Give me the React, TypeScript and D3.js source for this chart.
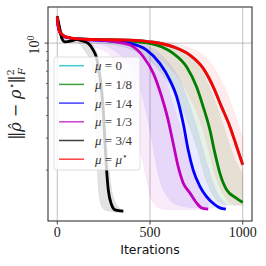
import React from "react";
import * as d3 from "d3";

// ---------- data ----------
const labels = ["0", "1/8", "1/4", "1/3", "3/4", "μ*"];
const colors = ["#00bfbf", "#008000", "#0000ff", "#bf00bf", "#000000", "#ff0000"];

const redIters = [0, 5, 12, 24, 40, 60, 100, 150, 250, 393, 500, 625, 715, 787, 841, 886, 931, 967, 1000];
const redVals = [1.4, 1.25, 1.17, 1.12, 1.09, 1.075, 1.058, 1.05, 1.045, 1.039, 1.017, 0.954, 0.859, 0.726, 0.575, 0.446, 0.347, 0.27, 0.214];

const cyanIters = [0, 5, 12, 24, 40, 60, 100, 150, 250, 393, 500, 625, 715, 787, 841, 886, 931, 967, 1000];
const cyanVals = [1.4, 1.25, 1.17, 1.12, 1.09, 1.075, 1.058, 1.05, 1.045, 1.039, 1.017, 0.954, 0.859, 0.726, 0.575, 0.446, 0.347, 0.27, 0.214];

const greenIters = [0, 5, 12, 24, 40, 60, 100, 150, 250, 393, 536, 625, 697, 751, 787, 823, 850, 877, 913, 967, 1000];
const greenVals = [1.4, 1.24, 1.16, 1.11, 1.085, 1.07, 1.056, 1.05, 1.042, 1.026, 0.975, 0.878, 0.741, 0.575, 0.446, 0.333, 0.248, 0.192, 0.156, 0.14, 0.133];

const blueIters = [0, 5, 12, 24, 40, 60, 100, 150, 250, 393, 482, 553, 607, 644, 679, 706, 733, 769, 805, 850, 877, 909];
const blueVals = [1.4, 1.24, 1.16, 1.11, 1.085, 1.07, 1.055, 1.048, 1.035, 0.996, 0.915, 0.774, 0.626, 0.507, 0.362, 0.258, 0.2, 0.163, 0.143, 0.129, 0.124, 0.122];

const magentaIters = [0, 5, 12, 24, 40, 60, 100, 150, 250, 330, 393, 464, 518, 563, 598, 625, 652, 679, 715, 751, 778, 814];
const magentaVals = [1.4, 1.24, 1.16, 1.11, 1.085, 1.07, 1.055, 1.045, 1.035, 1.01, 0.975, 0.841, 0.682, 0.507, 0.377, 0.281, 0.209, 0.17, 0.15, 0.132, 0.124, 0.122];

const blackIters = [0, 15, 24, 41, 78, 105, 132, 167, 194, 212, 230, 248, 257, 266, 275, 293, 311, 356];
const blackVals = [1.4, 1.178, 1.065, 1.017, 1.03, 1.048, 1.03, 0.996, 0.915, 0.827, 0.653, 0.428, 0.282, 0.2, 0.156, 0.129, 0.121, 0.119];

// bands (lower / upper on a shared iteration grid)
const redBandIters = [0, 40, 100, 200, 300, 400, 500, 600, 680, 750, 800, 850, 900, 950, 1000];
const redLower = [1.38, 1.07, 1.05, 1.03, 1.0, 0.96, 0.88, 0.74, 0.58, 0.42, 0.3, 0.19, 0.145, 0.13, 0.128];
const redUpper = [1.42, 1.1, 1.07, 1.065, 1.06, 1.05, 1.04, 1.01, 0.97, 0.91, 0.84, 0.72, 0.58, 0.43, 0.3];

const greenBandIters = [0, 40, 100, 200, 300, 400, 500, 600, 680, 750, 800, 850, 900, 950, 1000];
const greenLower = [1.38, 1.07, 1.05, 1.02, 0.98, 0.92, 0.8, 0.6, 0.42, 0.27, 0.18, 0.14, 0.13, 0.128, 0.128];
const greenUpper = [1.42, 1.1, 1.07, 1.06, 1.055, 1.04, 1.02, 0.97, 0.9, 0.78, 0.64, 0.48, 0.34, 0.24, 0.19];

const blueBandIters = [0, 40, 100, 200, 300, 393, 450, 500, 550, 600, 650, 700, 750, 800, 850, 909];
const blueLower = [1.38, 1.07, 1.04, 1.0, 0.92, 0.74, 0.55, 0.33, 0.18, 0.14, 0.128, 0.125, 0.124, 0.124, 0.124, 0.124];
const blueUpper = [1.42, 1.1, 1.068, 1.06, 1.05, 1.03, 1.0, 0.95, 0.88, 0.78, 0.66, 0.5, 0.35, 0.23, 0.16, 0.13];

const magentaBandIters = [0, 40, 100, 200, 285, 340, 393, 450, 518, 570, 620, 680, 750, 814];
const magentaLower = [1.38, 1.07, 1.03, 0.95, 0.86, 0.65, 0.43, 0.25, 0.132, 0.122, 0.121, 0.121, 0.121, 0.121];
const magentaUpper = [1.42, 1.1, 1.065, 1.055, 1.045, 1.03, 1.0, 0.94, 0.83, 0.68, 0.48, 0.3, 0.18, 0.14];

const blackBandIters = [0, 20, 41, 80, 112, 150, 176, 190, 203, 208, 212, 218, 230, 250, 265, 280, 300, 330, 356];
const blackLower = [1.38, 1.1, 1.02, 1.01, 1.0, 0.9, 0.806, 0.7, 0.53, 0.4, 0.282, 0.184, 0.137, 0.122, 0.12, 0.119, 0.118, 0.117, 0.117];
const blackUpper = [1.42, 1.15, 1.06, 1.06, 1.065, 1.05, 1.02, 0.98, 0.93, 0.91, 0.89, 0.86, 0.74, 0.52, 0.32, 0.2, 0.145, 0.125, 0.12];

const xTicks = [0, 500, 1000];
const yMinorTicks = [0.2, 0.3, 0.4, 0.5, 0.6, 0.7, 0.8, 0.9];

// ---------- layout ----------
const W = 266, H = 266;
const L = 48, R = 252, T = 7, B = 221;

export default function App() {
  const x = d3.scaleLinear().domain([-50, 1050]).range([L, R]);
  const y = d3.scaleLog().domain([0.105, 1.58]).range([B, T]);

  const line = (its: number[], vs: number[]) =>
    d3.line<number>().x((_, i) => x(its[i])).y((v) => y(v)).curve(d3.curveMonotoneX)(vs) || "";
  const area = (its: number[], lo: number[], up: number[]) =>
    d3
      .area<number>()
      .x((_, i) => x(its[i]))
      .y0((_, i) => y(lo[i]))
      .y1((_, i) => y(up[i]))
      .curve(d3.curveMonotoneX)(its) || "";

  const series = [
    { its: cyanIters, vs: cyanVals, c: colors[0] },
    { its: greenIters, vs: greenVals, c: colors[1] },
    { its: blueIters, vs: blueVals, c: colors[2] },
    { its: magentaIters, vs: magentaVals, c: colors[3] },
    { its: blackIters, vs: blackVals, c: colors[4] },
    { its: redIters, vs: redVals, c: colors[5] },
  ];
  const bands = [
    { its: greenBandIters, lo: greenLower, up: greenUpper, c: colors[1], o: 0.1 },
    { its: blueBandIters, lo: blueLower, up: blueUpper, c: colors[2], o: 0.08 },
    { its: magentaBandIters, lo: magentaLower, up: magentaUpper, c: colors[3], o: 0.08 },
    { its: blackBandIters, lo: blackLower, up: blackUpper, c: colors[4], o: 0.11 },
    { its: redBandIters, lo: redLower, up: redUpper, c: colors[5], o: 0.07 },
  ];

  const serif = "'Liberation Serif', 'DejaVu Serif', serif";
  const legX = 54, legY = 57, legW = 86, legH = 113;
  const rowY0 = 65.7, rowDy = 18.7;

  return (
    <svg width={W} height={H} style={{ position: "absolute", left: 0, top: 0, background: "#fff" }}>
      <defs>
        <clipPath id="plotclip">
          <rect x={L} y={T} width={R - L} height={B - T} />
        </clipPath>
      </defs>
      <rect x={0} y={0} width={W} height={H} fill="#fff" />
      {/* grid */}
      {xTicks.map((t) => (
        <line key={"gx" + t} x1={x(t)} x2={x(t)} y1={T} y2={B} stroke="#b0b0b0" strokeWidth={0.8} />
      ))}
      <line x1={L} x2={R} y1={y(1)} y2={y(1)} stroke="#b0b0b0" strokeWidth={0.8} />

      <g clipPath="url(#plotclip)">
        {bands.map((b, i) => (
          <path key={"b" + i} d={area(b.its, b.lo, b.up)} fill={b.c} fillOpacity={b.o} stroke={b.c} strokeOpacity={b.o * 0.8} strokeWidth={0.8} />
        ))}
        {series.map((s, i) => (
          <path key={"s" + i} d={line(s.its, s.vs)} fill="none" stroke={s.c} strokeWidth={2.8} strokeLinejoin="round" strokeLinecap="butt" />
        ))}
      </g>

      {/* frame */}
      <rect x={L} y={T} width={R - L} height={B - T} fill="none" stroke="#333" strokeWidth={1.1} />

      {/* x ticks */}
      {xTicks.map((t) => (
        <g key={"xt" + t}>
          <line x1={x(t)} x2={x(t)} y1={B} y2={B + 3.5} stroke="#333" strokeWidth={0.9} />
          <text x={x(t)} y={237} textAnchor="middle" fontFamily={serif} fontSize={14} fill="#222">
            {t}
          </text>
        </g>
      ))}
      {/* y ticks */}
      <line x1={L - 3.5} x2={L} y1={y(1)} y2={y(1)} stroke="#333" strokeWidth={0.9} />
      {yMinorTicks.map((t) => (
        <line key={"ym" + t} x1={L - 2} x2={L} y1={y(t)} y2={y(t)} stroke="#333" strokeWidth={0.7} />
      ))}
      <text transform={`translate(39, ${y(1) + 2}) rotate(-90)`} textAnchor="middle" fontFamily={serif} fontSize={14} fill="#222">
        10<tspan dy={-5} fontSize={10}>0</tspan>
      </text>

      {/* axis labels */}
      <text x={(L + R) / 2} y={254} textAnchor="middle" fontFamily="'DejaVu Sans', sans-serif" fontSize={12.5} fill="#111">
        Iterations
      </text>
      <text transform={`translate(21, ${(T + B) / 2 - 10}) rotate(-90)`} textAnchor="middle" fontFamily="'DejaVu Serif', serif" fontSize={16} fill="#222">
        ‖<tspan fontStyle="italic">ρ̂</tspan> − <tspan fontStyle="italic">ρ</tspan>
        <tspan dy={-6} fontSize={10}>⋆</tspan>
        <tspan dy={6}>‖</tspan>
        <tspan dy={-7} fontSize={10}>2</tspan>
        <tspan dy={11} dx={-6} fontSize={10} fontStyle="italic">F</tspan>
      </text>

      {/* legend */}
      <rect x={legX} y={legY} width={legW} height={legH} rx={2.5} fill="#fff" fillOpacity={0.8} stroke="#d6d6d6" strokeWidth={0.8} />
      {labels.map((lab, i) => {
        const yy = rowY0 + i * rowDy;
        return (
          <g key={"lg" + i}>
            <line x1={59} x2={84} y1={yy} y2={yy} stroke={colors[i]} strokeWidth={1.5} strokeOpacity={0.75} />
            <text x={95} y={yy + 4.5} fontFamily={serif} fontSize={13} fill="#333">
              <tspan fontStyle="italic">μ</tspan> = {lab === "μ*" ? (
                <>
                  <tspan fontStyle="italic">μ</tspan>
                  <tspan dy={-5} fontSize={9}>⋆</tspan>
                </>
              ) : (
                lab
              )}
            </text>
          </g>
        );
      })}
    </svg>
  );
}
